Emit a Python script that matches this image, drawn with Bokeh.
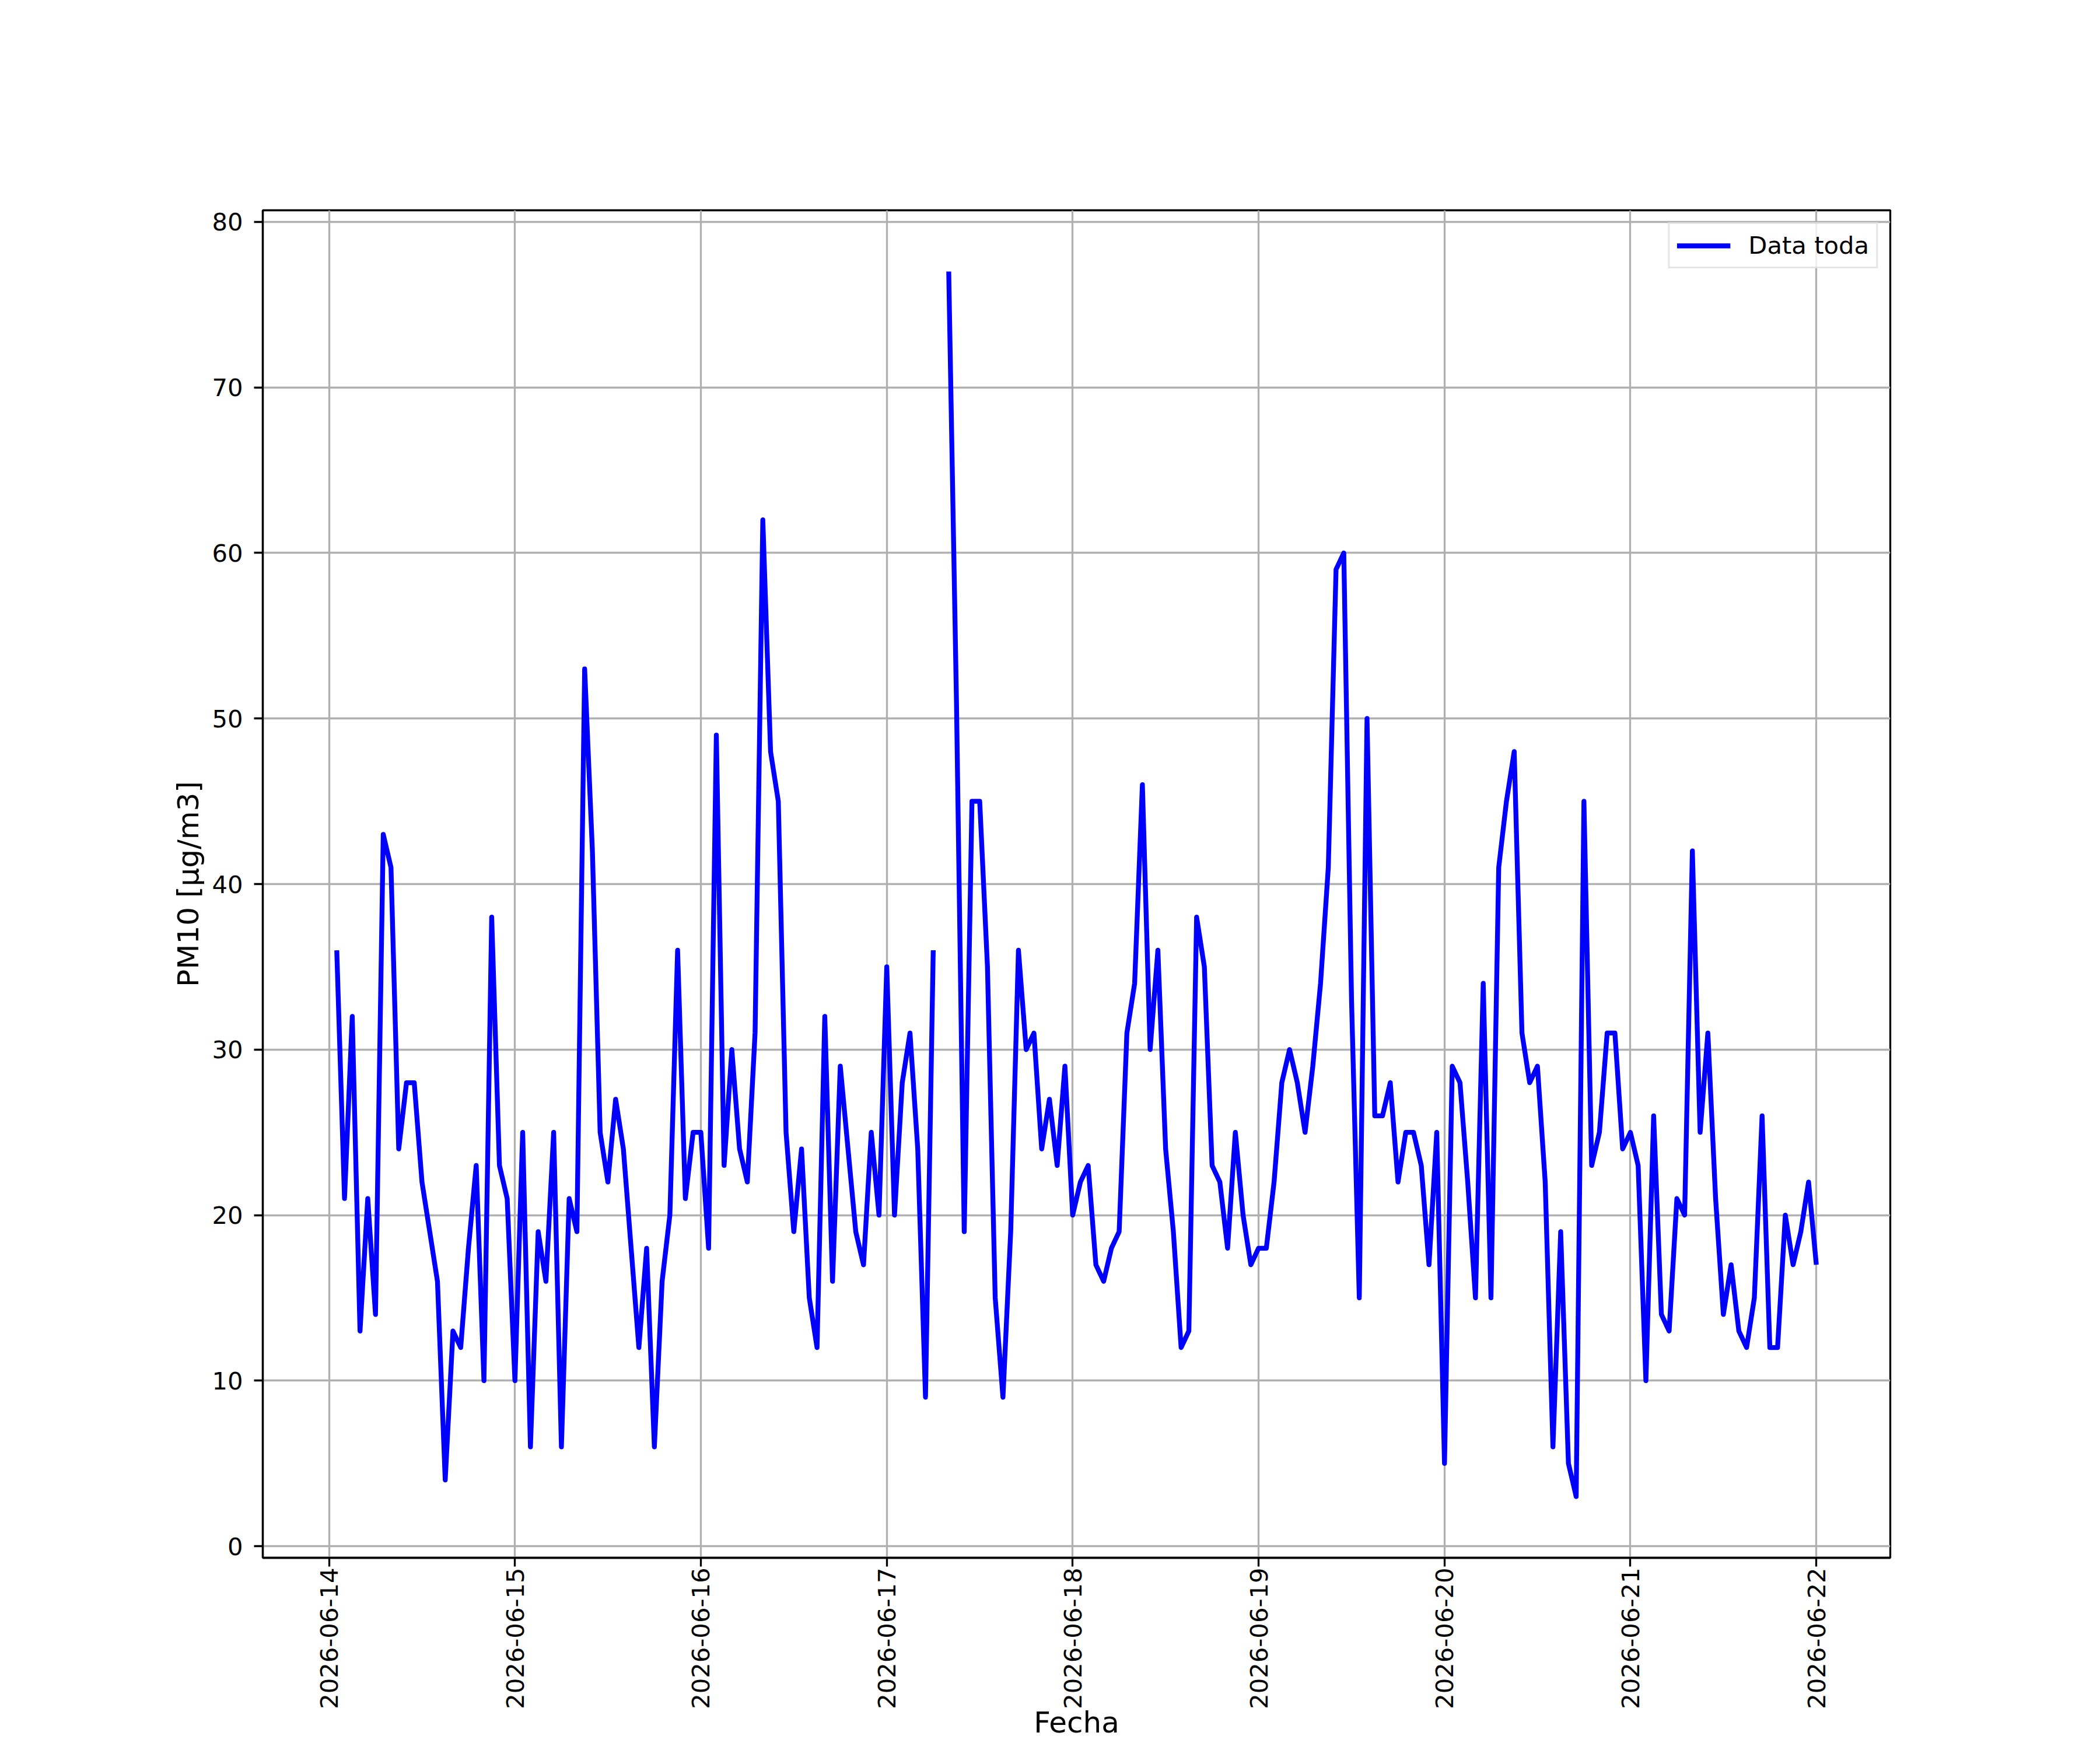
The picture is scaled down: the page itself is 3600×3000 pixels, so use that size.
import math
import numpy as np
import pandas as pd
from bokeh.plotting import figure
from bokeh.models import (ColumnDataSource, FixedTicker, DatetimeTickFormatter,
                          Range1d, Legend, LegendItem)
from bokeh.embed import file_html
from bokeh.resources import INLINE

# ---------------- data (hourly PM10) ----------------
FECHA_INICIO = "2026-06-14 01:00"   # first hourly sample
# 2026-06-14, 01:00 .. 23:00
pm10_dia14 = [36, 21, 32, 13, 21, 14, 43, 41, 24, 28, 28, 22, 19, 16, 4, 13, 12, 18, 23, 10, 38, 23, 21]
# 2026-06-15, 00:00 .. 23:00
pm10_dia15 = [10, 25, 6, 19, 16, 25, 6, 21, 19, 53, 42, 25, 22, 27, 24, 18, 12, 18, 6, 16, 20, 36, 21, 25]
# 2026-06-16
pm10_dia16 = [25, 18, 49, 23, 30, 24, 22, 31, 62, 48, 45, 25, 19, 24, 15, 12, 32, 16, 29, 24, 19, 17, 25, 20]
# 2026-06-17 (07:00 missing)
pm10_dia17 = [35, 20, 28, 31, 24, 9, 36, None, 77, 51, 19, 45, 45, 35, 15, 9, 19, 36, 30, 31, 24, 27, 23, 29]
# 2026-06-18
pm10_dia18 = [20, 22, 23, 17, 16, 18, 19, 31, 34, 46, 30, 36, 24, 19, 12, 13, 38, 35, 23, 22, 18, 25, 20, 17]
# 2026-06-19
pm10_dia19 = [18, 18, 22, 28, 30, 28, 25, 29, 34, 41, 59, 60, 33, 15, 50, 26, 26, 28, 22, 25, 25, 23, 17, 25]
# 2026-06-20
pm10_dia20 = [5, 29, 28, 22, 15, 34, 15, 41, 45, 48, 31, 28, 29, 22, 6, 19, 5, 3, 45, 23, 25, 31, 31, 24]
# 2026-06-21
pm10_dia21 = [25, 23, 10, 26, 14, 13, 21, 20, 42, 25, 31, 21, 14, 17, 13, 12, 15, 26, 12, 12, 20, 17, 19, 22]
# 2026-06-22, 00:00
pm10_dia22 = [17]

dias_ticks = ["2026-06-14", "2026-06-15", "2026-06-16", "2026-06-17", "2026-06-18",
              "2026-06-19", "2026-06-20", "2026-06-21", "2026-06-22"]
y_ticks = [0, 10, 20, 30, 40, 50, 60, 70, 80]

serie_label = "Data toda"
x_label = "Fecha"
y_label = "PM10 [μg/m3]"

# ---------------- build ----------------
valores = (pm10_dia14 + pm10_dia15 + pm10_dia16 + pm10_dia17 + pm10_dia18 +
           pm10_dia19 + pm10_dia20 + pm10_dia21 + pm10_dia22)
y = np.array([np.nan if v is None else float(v) for v in valores])
t = pd.date_range(FECHA_INICIO, periods=len(y), freq="h")

src = ColumnDataSource(data=dict(x=t.values, y=y))

ms = lambda ts: pd.Timestamp(ts).value / 1e6
t0, t1 = ms(t[0]), ms(t[-1])
xpad = 0.05 * (t1 - t0)
ymin, ymax = np.nanmin(y), np.nanmax(y)
ypad = 0.05 * (ymax - ymin)
y_lo, y_hi = ymin - ypad, ymax + ypad

FONT = "DejaVu Sans"
TICK_PX = "41.7px"
LABEL_PX = "50px"
LW = 3.3

W, H = 3584, 2984
B_LEFT, B_TOP, B_RIGHT, B_BOTTOM = 450, 360, 344, 314

p = figure(width=W, height=H, x_axis_type="datetime",
           x_range=Range1d(t0 - xpad, t1 + xpad),
           y_range=Range1d(y_lo, y_hi),
           output_backend="svg", toolbar_location=None,
           min_border_left=B_LEFT, min_border_right=B_RIGHT,
           min_border_top=B_TOP, min_border_bottom=B_BOTTOM)
p.background_fill_color = "white"
p.border_fill_color = "white"
p.outline_line_color = "black"
p.outline_line_width = LW

r = p.line("x", "y", source=src, line_color="#0000ff", line_width=8.33,
           line_join="round")

# x axis
xt = FixedTicker(ticks=[ms(d) for d in dias_ticks])
p.xaxis.ticker = xt
fmt = "%Y-%m-%d"
p.xaxis.formatter = DatetimeTickFormatter(
    microseconds=fmt, milliseconds=fmt, seconds=fmt, minsec=fmt, minutes=fmt,
    hourmin=fmt, hours=fmt, days=fmt, months=fmt, years=fmt)
p.xaxis.major_label_orientation = math.pi / 2
p.xaxis.major_label_standoff = 2
p.xaxis.axis_label = x_label
p.xaxis.axis_label_standoff = -9

# y axis
p.yaxis.ticker = FixedTicker(ticks=y_ticks)
p.yaxis.axis_label = y_label
p.yaxis.major_label_standoff = 19
p.yaxis.axis_label_standoff = 8

for ax in (p.xaxis[0], p.yaxis[0]):
    ax.axis_line_color = "black"
    ax.axis_line_width = LW
    ax.major_tick_line_color = "black"
    ax.major_tick_line_width = LW
    ax.major_tick_out = 15
    ax.major_tick_in = 0
    ax.minor_tick_line_color = None
    ax.major_label_text_font = FONT
    ax.major_label_text_font_size = TICK_PX
    ax.major_label_text_color = "black"
    ax.axis_label_text_font = FONT
    ax.axis_label_text_font_size = LABEL_PX
    ax.axis_label_text_font_style = "normal"
    ax.axis_label_text_color = "black"

# grid
p.xgrid.ticker = xt
p.ygrid.ticker = FixedTicker(ticks=y_ticks)
for g in (p.xgrid[0], p.ygrid[0]):
    g.grid_line_color = "#b0b0b0"
    g.grid_line_width = LW

# legend
legend = Legend(items=[LegendItem(label=serie_label, renderers=[r])],
                location="top_right")
legend.margin = 21
legend.padding = 12
legend.spacing = 0
legend.glyph_width = 92
legend.glyph_height = 40
legend.label_standoff = 31
legend.label_text_font = FONT
legend.label_text_font_size = TICK_PX
legend.label_text_color = "black"
legend.border_line_color = "#cccccc"
legend.border_line_width = 3.5
legend.background_fill_color = "white"
legend.background_fill_alpha = 0.8
p.add_layout(legend)

open("out.html", "w").write(file_html(p, INLINE))
